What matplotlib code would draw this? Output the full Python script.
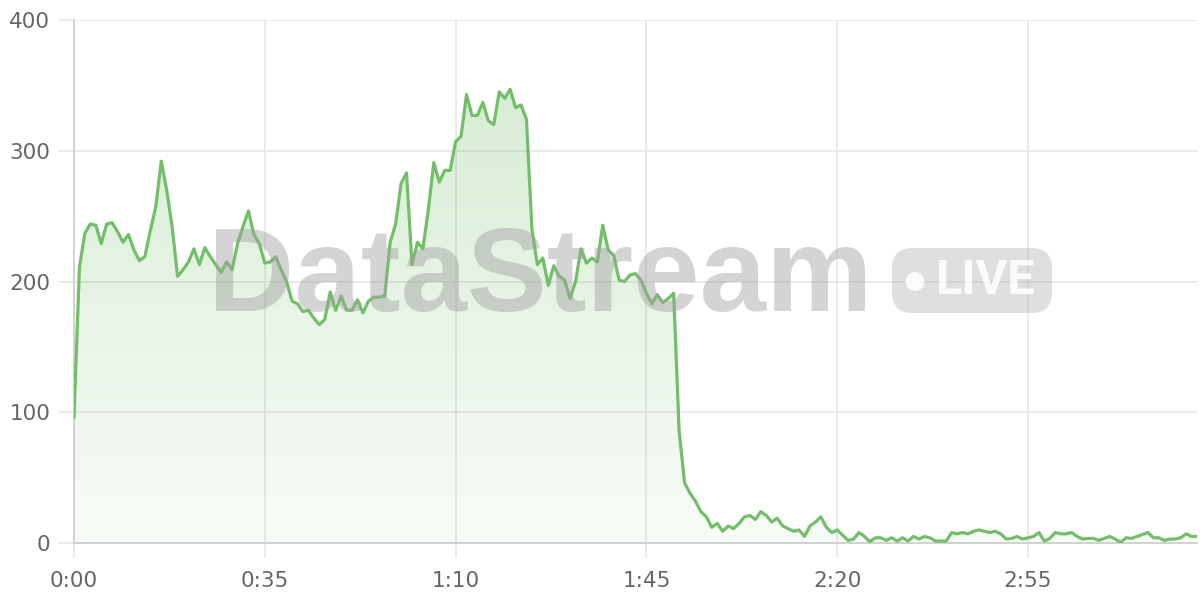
import numpy as np
import matplotlib
matplotlib.use("Agg")
import matplotlib.pyplot as plt
from matplotlib.patches import Polygon, FancyBboxPatch, Ellipse

# one sample per second
values = [96, 211, 237, 244, 243, 229, 244, 245, 238, 230,
          236, 224, 216, 219, 239, 257, 292, 270, 242, 204,
          209, 215, 225, 213, 226, 219, 213, 207, 215, 209,
          229, 242, 254, 236, 229, 214, 215, 219, 209, 200,
          185, 183, 177, 178, 172, 167, 171, 192, 178, 189,
          178, 178, 186, 176, 185, 188, 188, 189, 230, 244,
          275, 283, 213, 230, 225, 255, 291, 276, 285, 285,
          307, 311, 343, 327, 327, 337, 323, 320, 345, 340,
          347, 333, 335, 324, 240, 213, 218, 197, 212, 204,
          201, 187, 200, 225, 214, 218, 215, 243, 224, 220,
          201, 200, 205, 206, 201, 191, 183, 190, 184, 187,
          191, 86, 46, 38, 32, 24, 20, 12, 15, 9,
          13, 11, 15, 20, 21, 18, 24, 21, 16, 19,
          13, 11, 9, 10, 5, 13, 16, 20, 12, 8,
          10, 6, 2, 3, 8, 5, 1, 4, 4, 2,
          4, 1.5, 4, 1.5, 5, 3, 5, 4, 1.5, 1.5,
          1.5, 8, 7, 8, 7, 9, 10, 9, 8, 9,
          7, 3, 3.5, 5, 3, 4, 5, 8, 1.5, 3.5,
          8, 7, 7, 8, 5, 3, 3.5, 3.5, 2, 3.5,
          5, 3, 0.5, 4, 3.5, 5, 6.5, 8, 4, 4,
          2, 3, 3, 4, 7, 5, 5]
seconds = np.arange(len(values))

x_ticks = [0, 35, 70, 105, 140, 175]
x_labels = ["0:00", "0:35", "1:10", "1:45", "2:20", "2:55"]
y_ticks = [0, 100, 200, 300, 400]

green = "#73bf69"
grid_c = "#e6e6e6"
text_c = "#666666"

fig = plt.figure(figsize=(12, 6), dpi=100)
ax = fig.add_axes([74 / 1200, 1 - 543 / 600, (1197 - 74) / 1200, (543 - 20) / 600])

# gradient fill under the line
top = max(values)
rgba = np.zeros((256, 1, 4))
rgba[..., 0] = 115 / 255
rgba[..., 1] = 191 / 255
rgba[..., 2] = 105 / 255
rgba[..., 3] = np.linspace(0.05, 0.28, 256).reshape(-1, 1)
im = ax.imshow(rgba, extent=[0, seconds[-1], 0, top], origin="lower",
               aspect="auto", zorder=1, interpolation="bilinear")
verts = np.column_stack([np.r_[seconds[0], seconds, seconds[-1]],
                         np.r_[0, values, 0]])
poly = Polygon(verts, closed=True, facecolor="none", edgecolor="none")
ax.add_patch(poly)
im.set_clip_path(poly)
ax.set_xlim(0, seconds[-1])
ax.set_ylim(0, 400)

ax.plot(seconds, values, color=green, lw=2.3, zorder=4)

# watermark
fig.text(540 / 1200, 1 - 280 / 600, "DataStream", ha="center", va="center",
         fontsize=86, fontweight="bold", family="Liberation Sans",
         color="#a0a0a0", alpha=0.45, zorder=3)
badge = FancyBboxPatch((892 / 1200, 1 - 313 / 600), 160 / 1200, 65 / 600,
                       boxstyle="round,pad=0,rounding_size=0.017",
                       transform=fig.transFigure, facecolor="#a0a0a0",
                       edgecolor="none", alpha=0.33, zorder=3,
                       mutation_aspect=2)
fig.patches.append(badge)
fig.patches.append(Ellipse((915 / 1200, 1 - 281.5 / 600), 19 / 1200, 19 / 600,
                           transform=fig.transFigure, facecolor="white",
                           edgecolor="none", alpha=0.9, zorder=3))
fig.text(986 / 1200, 1 - 281 / 600, "LIVE", ha="center", va="center",
         fontsize=35, fontweight="bold", family=["Roboto", "DejaVu Sans"],
         color="white", alpha=0.9, zorder=3)

ax.set_xticks(x_ticks)
ax.set_xticklabels(x_labels)
ax.set_yticks(y_ticks)
ax.grid(True, color=grid_c, lw=1.2, zorder=0)
ax.set_axisbelow(True)

for s in ["top", "right"]:
    ax.spines[s].set_visible(False)
for s in ["left", "bottom"]:
    ax.spines[s].set_color("#cfcfcf")
    ax.spines[s].set_linewidth(1.3)

ax.tick_params(axis="y", length=11, color=grid_c, width=1.2, pad=6,
               labelsize=15.5, labelcolor=text_c)
ax.tick_params(axis="x", length=11, color=grid_c, width=1.2, pad=9,
               labelsize=15.5, labelcolor=text_c)

fig.savefig("out.png", dpi=100)
